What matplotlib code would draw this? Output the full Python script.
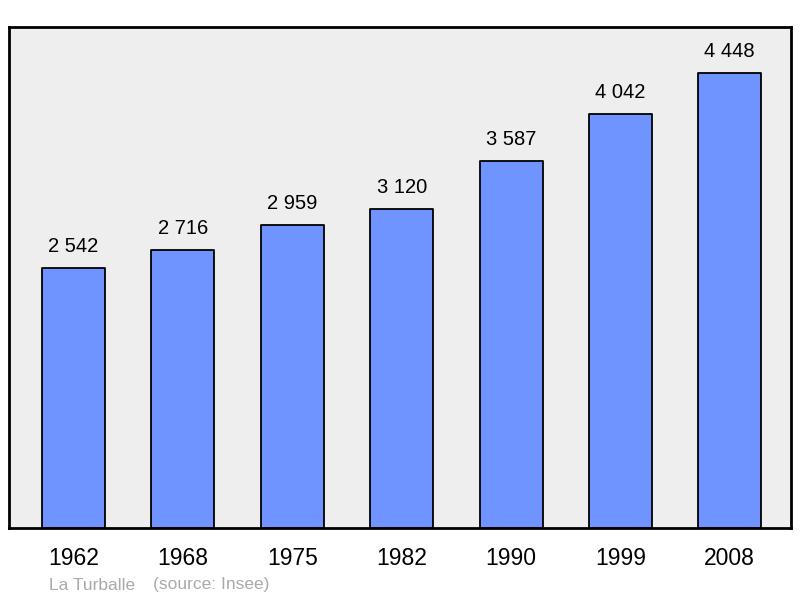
import matplotlib.pyplot as plt

plt.rcParams['font.family'] = ['Liberation Sans', 'DejaVu Sans']

years = ['1962', '1968', '1975', '1982', '1990', '1999', '2008']
population = [2542, 2716, 2959, 3120, 3587, 4042, 4448]
value_labels = ['2 542', '2 716', '2 959', '3 120', '3 587', '4 042', '4 448']

fig = plt.figure(figsize=(8, 5.98), dpi=100)
ax = fig.add_axes([9 / 800, 70 / 598, 782 / 800, 501 / 598])
ax.set_facecolor('#eeeeee')

x = range(len(years))
ax.bar(x, population, width=0.576, color='#7094ff', edgecolor='black',
       linewidth=1.3, joinstyle='round', zorder=2)

for i, v in enumerate(population):
    ax.text(i, v + 120, value_labels[i], ha='center', va='bottom', fontsize=14.5)

ax.set_xlim(-0.59, 6.56)
ax.set_ylim(0, 4897)
ax.set_yticks([])
ax.set_xticks(list(x))
ax.set_xticklabels(years, fontsize=16.5)
ax.tick_params(axis='x', length=0, pad=14)
for s in ax.spines.values():
    s.set_linewidth(2)
    s.set_joinstyle('round')

fig.text(49 / 800, 1 - 585 / 598, 'La Turballe', fontsize=12.5, color='#aaaaaa', va='center')
fig.text(153 / 800, 1 - 585 / 598, '(source: Insee)', fontsize=12.5, color='#aaaaaa', va='center')

fig.savefig('out.png', dpi=100)
